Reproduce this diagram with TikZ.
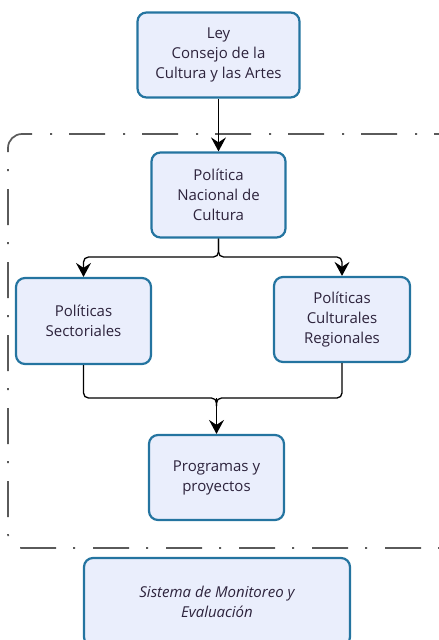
\documentclass[tikz,border=0pt]{standalone}
\usepackage{fontspec}
\setmainfont{Open Sans}
\usetikzlibrary{arrows.meta}
\definecolor{boxblue}{RGB}{36,116,160}
\definecolor{boxfill}{RGB}{234,238,252}
\definecolor{txt}{RGB}{45,35,60}
\definecolor{framegray}{RGB}{90,90,90}
\tikzset{
  box/.style={rectangle, rounded corners=9pt, draw=boxblue, line width=2.2pt, fill=boxfill,
    align=center, text=txt, font=\fontsize{15}{20}\selectfont, inner sep=0pt},
  conn/.style={draw=black, line width=1.3pt, rounded corners=5pt},
  arr/.style={-{Stealth[length=14pt,width=15pt,inset=5pt]}},
  frame/.style={draw=framegray, line width=1.7pt, rounded corners=14pt,
    dash pattern=on 36pt off 17pt on 2pt off 18pt}
}
\begin{document}
\begin{tikzpicture}[x=1pt,y=-1pt]
\useasboundingbox (0,0) rectangle (439,640);
% frame
\draw[frame] (470,134) -- (8,134) -- (8,548) -- (470,548);
% boxes
\node[box, minimum width=162pt, minimum height=85pt] (ley) at (218.5,55) {Ley\\Consejo de la\\Cultura y las Artes};
\node[box, minimum width=134pt, minimum height=85pt] (pnc) at (218.5,195) {Política\\Nacional de\\Cultura};
\node[box, minimum width=135pt, minimum height=86pt] (sec) at (83.5,321) {Políticas\\Sectoriales};
\node[box, minimum width=136pt, minimum height=85pt] (reg) at (342,319.5) {Políticas\\Culturales\\Regionales};
\node[box, minimum width=135pt, minimum height=85pt] (prog) at (216.5,477.5) {Programas y\\proyectos};
\node[box, minimum width=266pt, minimum height=88pt, font=\fontsize{15}{20}\selectfont\itshape] (sme) at (217,602) {Sistema de Monitoreo y\\Evaluación};
% connectors
\draw[conn, arr] (ley.south) -- (pnc.north);
\coordinate (j1) at (218.5,257);
\coordinate (j2) at (216.5,398);
\draw[conn, arr] (pnc.south) -- (j1) -| (sec.north);
\draw[conn, arr] (pnc.south) -- (j1) -| (reg.north);
\draw[conn] (sec.south) |- (j2) -- ([yshift=-8pt]j2);
\draw[conn] (reg.south) |- (j2) -- ([yshift=-8pt]j2);
\draw[conn, arr] (j2) -- (prog.north);
\end{tikzpicture}
\end{document}
